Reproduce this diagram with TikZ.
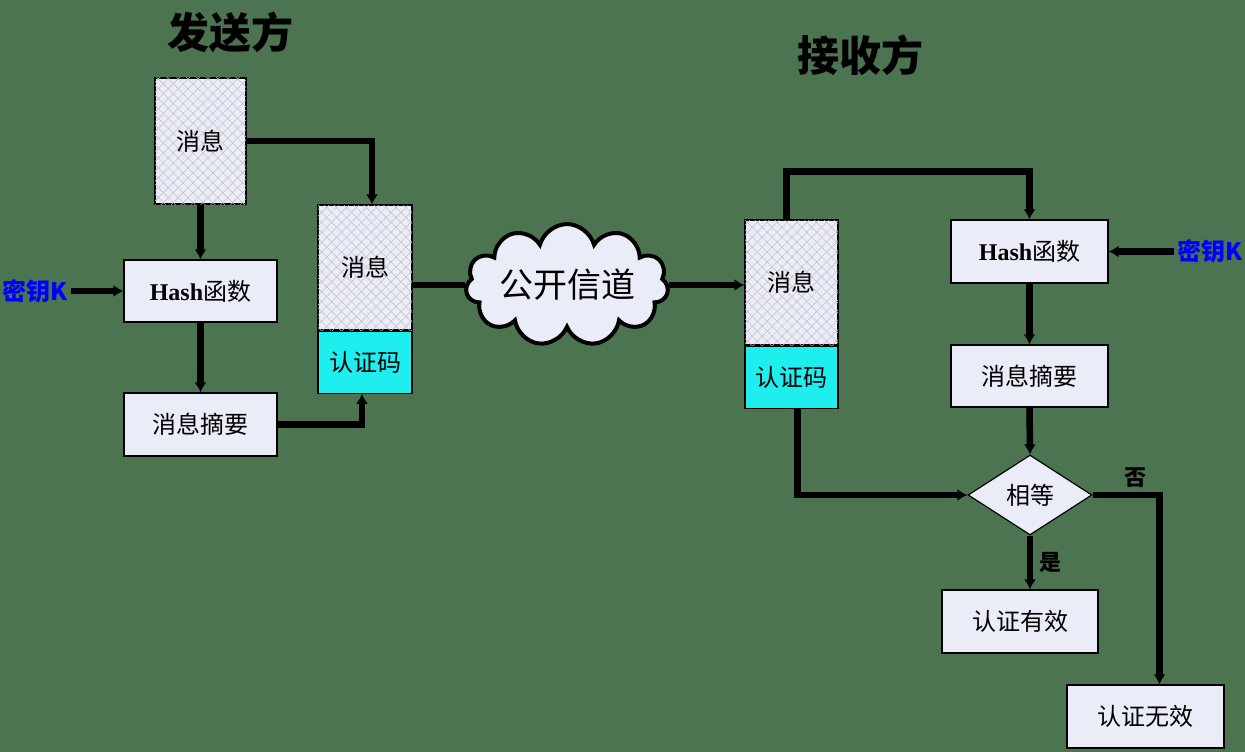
\documentclass[tikz,border=0pt]{standalone}
\usepackage{fontspec}
\setmainfont{Liberation Serif}
\newfontfamily\cjk{Noto Sans CJK SC}
\usetikzlibrary{arrows.meta, shapes.geometric, shapes.symbols, patterns.meta}
\definecolor{bggreen}{RGB}{76,116,80}
\definecolor{boxfill}{RGB}{234,236,248}
\definecolor{maccyan}{RGB}{30,238,238}
\definecolor{keyblue}{RGB}{0,0,255}
\tikzset{>={Latex[length=10pt,width=12pt]}}
\tikzset{
	box/.style={draw, line width=1.2pt, fill=boxfill, inner sep=0pt,
		font=\cjk\fontsize{24}{28}\selectfont},
	hatched/.style={box, postaction={pattern={Lines[angle=45,distance=7pt,line width=.5pt]}, pattern color=gray!50},
		postaction={pattern={Lines[angle=-45,distance=7pt,line width=.5pt]}, pattern color=gray!50}},
	macbox/.style={box, fill=maccyan},
	keylabel/.style={text=keyblue, font=\cjk\bfseries\fontsize{24}{28}\selectfont},
	title/.style={font=\cjk\bfseries\fontsize{42}{46}\selectfont},
	branchlabel/.style={font=\cjk\bfseries\fontsize{22}{26}\selectfont},
	conn/.style={line width=6.5pt, ->}
}

\begin{document}
\begin{tikzpicture}[x=1pt, y=-1pt]

\fill[bggreen] (0,0) rectangle (1245,752);
\useasboundingbox (0,0) rectangle (1245,752);

% Sender
\node[title] (sendT) at (230,32) {发送方};
\node[hatched, minimum width=91pt, minimum height=126pt] (msgA) at (200.5,141) {消息};
\node[box, minimum width=153pt, minimum height=62pt] (hashA) at (200.5,291) {{\rmfamily\bfseries Hash}函数};
\node[box, minimum width=153pt, minimum height=63pt] (digA) at (200.5,424.5) {消息摘要};
\node[keylabel] (keyA) at (35,291) {密钥K};
\node[hatched, minimum width=94pt, minimum height=125pt] (pktAm) at (365,267.5) {消息};
\node[macbox, minimum width=94pt, minimum height=62pt, anchor=north] (pktAc) at (pktAm.south) {认证码};

% Channel
\node[cloud, cloud puffs=11, aspect=2.3, draw, line width=4pt, fill=boxfill, inner sep=0pt,
	minimum width=200pt, minimum height=90pt, font=\cjk\fontsize{34}{38}\selectfont] (chan) at (567,285) {公开信道};

% Receiver
\node[title] (recvT) at (860,55) {接收方};
\node[hatched, minimum width=93pt, minimum height=125pt] (pktBm) at (791.5,282.5) {消息};
\node[macbox, minimum width=93pt, minimum height=62pt, anchor=north] (pktBc) at (pktBm.south) {认证码};
\node[box, minimum width=157pt, minimum height=63pt] (hashB) at (1029.5,251.5) {{\rmfamily\bfseries Hash}函数};
\node[box, minimum width=157pt, minimum height=62pt] (digB) at (1029.5,376) {消息摘要};
\node[keylabel] (keyB) at (1210,251.5) {密钥K};
\node[box, diamond, aspect=1.55, minimum width=124pt, minimum height=80pt] (eq) at (1030,495) {相等};
\node[box, minimum width=156pt, minimum height=63pt] (ok) at (1020,621.5) {认证有效};
\node[box, minimum width=157pt, minimum height=63pt] (bad) at (1145.5,716.5) {认证无效};

% Sender connections
\draw[conn] (msgA.east) -| ([xshift=7pt]pktAm.north);
\draw[conn] (msgA.south) -- (hashA.north);
\draw[conn] (keyA.east) -- (hashA.west);
\draw[conn] (hashA.south) -- (digA.north);
\draw[conn] (digA.east) -| ([xshift=-3pt]pktAc.south);
\draw[line width=6.5pt] (chan.west -| pktAm.east) -- (chan.west);

% Receiver connections
\draw[conn] (chan.east) -- (chan.east -| pktBm.west);
\draw[conn] ([xshift=-5pt]pktBm.north) -- ++(0,-48) -| (hashB.north);
\draw[conn] (keyB.west) -- (hashB.east);
\draw[conn] (hashB.south) -- (digB.north);
\draw[conn] (digB.south) -- (eq.north);
\draw[conn] ([xshift=6pt]pktBc.south) |- (eq.west);
\draw[conn] (eq.south) -- (eq.south |- ok.north);
\draw[conn] (eq.east) -| ([xshift=14pt]bad.north);
\node[branchlabel] (yes) at (1050,562) {是};
\node[branchlabel] (no) at (1135,478) {否};

\end{tikzpicture}
\end{document}
